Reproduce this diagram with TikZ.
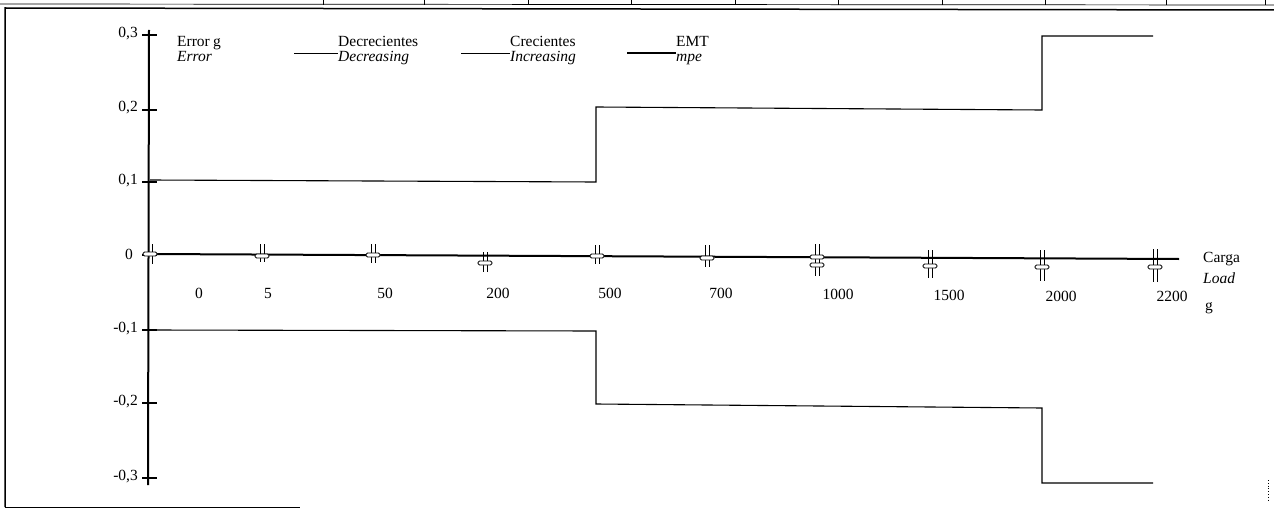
\documentclass[tikz,border=0pt]{standalone}
\usepackage{fontspec}
\setmainfont{Liberation Serif}
\begin{document}
\begin{tikzpicture}[x=1pt,y=-1pt,
  lbl/.style={font=\fontsize{15.5}{17}\selectfont, inner sep=0pt},
  axisline/.style={line width=2pt},
  mpeline/.style={line width=1.1pt},
  frameline/.style={line width=1.5pt},
  marker/.style={line width=0.8pt},
  legline/.style={line width=0.9pt}]
\useasboundingbox (0,0) rectangle (1274,508);
% frame and table remnants
\draw[frameline] (5,507) -- (5,8) -- (1274,10);
\draw[line width=1pt] (5,507) -- (300,507);
\draw[line width=0.7pt] (0,4) -- (1274,5);
\foreach \x in {323,424,528,631,735,838,942,1045,1166,1265}
  \draw[line width=0.7pt] (\x,0) -- (\x,5);
\draw[dotted, line width=0.8pt] (1268,480) -- (1268,500);
% y axis
\draw[axisline] (149,30) -- (148,485);
\foreach \y in {35,110,182,255,330,403,478}
  \draw[line width=1.2pt] (142,\y) -- (157,\y);
\node[lbl, anchor=east] (y3) at (138,34) {0,3};
\node[lbl, anchor=east] (y2) at (138,108) {0,2};
\node[lbl, anchor=east] (y1) at (138,181) {0,1};
\node[lbl, anchor=east] (y0) at (133,254) {0};
\node[lbl, anchor=east] (ym1) at (138,329) {-0,1};
\node[lbl, anchor=east] (ym2) at (138,402) {-0,2};
\node[lbl, anchor=east] (ym3) at (138,477) {-0,3};
% x axis
\draw[axisline] (149,254) -- (1179,259);
% mpe step lines
\draw[mpeline] (150,180) -- (596,182) -- (596,107) -- (1042,110) -- (1042,36) -- (1153,36);
\draw[mpeline] (150,330) -- (596,331) -- (596,404) -- (1042,408) -- (1042,483) -- (1153,483);
% markers
\foreach \x/\a/\b/\r in {150/244/264/254, 262/244/262/256, 373/244/263/255, 485/252/272/263,
   597/245/264/256, 707/245/267/258, 817/244/276/265, 930/250/278/266, 1042/250/281/267, 1155/249/282/267}{
  \draw[marker] ({\x-2},\a) -- ({\x-2},\b);
  \draw[marker] ({\x+2},\a) -- ({\x+2},\b);
  \draw[marker, rounded corners=1.5pt, fill=white] ({\x-7},{\r-2}) rectangle ({\x+7},{\r+2});
}
\draw[marker, rounded corners=1.5pt, fill=white] (810,255) rectangle (824,259);
% x labels
\node[lbl] (x0) at (199,293) {0};
\node[lbl] (x5) at (268,293) {5};
\node[lbl] (x50) at (385,293) {50};
\node[lbl] (x200) at (498,293) {200};
\node[lbl] (x500) at (610,293) {500};
\node[lbl] (x700) at (721,293) {700};
\node[lbl] (x1000) at (838,294) {1000};
\node[lbl] (x1500) at (949,295) {1500};
\node[lbl] (x2000) at (1061,296) {2000};
\node[lbl] (x2200) at (1172,296) {2200};
\node[lbl, anchor=west] (carga) at (1203,259) {Carga};
\node[lbl, anchor=west] (load) at (1203,278) {\itshape Load};
\node[lbl, anchor=west] (gunit) at (1205,308) {g};
% legend
\node[lbl, anchor=base west] (err) at (177,47) {Error};
\node[lbl, anchor=base west] (errg) at (213,47) {g};
\node[lbl, anchor=base west] (erri) at (177,62) {\itshape Error};
\coordinate (d1) at (294,53);
\node[lbl, anchor=base west] (dec) at (338,47) {Decrecientes};
\node[lbl, anchor=base west] (deci) at (338,62) {\itshape Decreasing};
\draw[legline] (d1) -- (dec.south west |- d1);
\coordinate (c1) at (461,53);
\node[lbl, anchor=base west] (cre) at (510,47) {Crecientes};
\node[lbl, anchor=base west] (crei) at (510,62) {\itshape Increasing};
\draw[legline] (c1) -- (cre.south west |- c1);
\coordinate (e1) at (627,53);
\node[lbl, anchor=base west] (emt) at (676,47) {EMT};
\node[lbl, anchor=base west] (mpe) at (676,62) {\itshape mpe};
\draw[line width=1.8pt] (e1) -- (emt.south west |- e1);
\end{tikzpicture}
\end{document}
